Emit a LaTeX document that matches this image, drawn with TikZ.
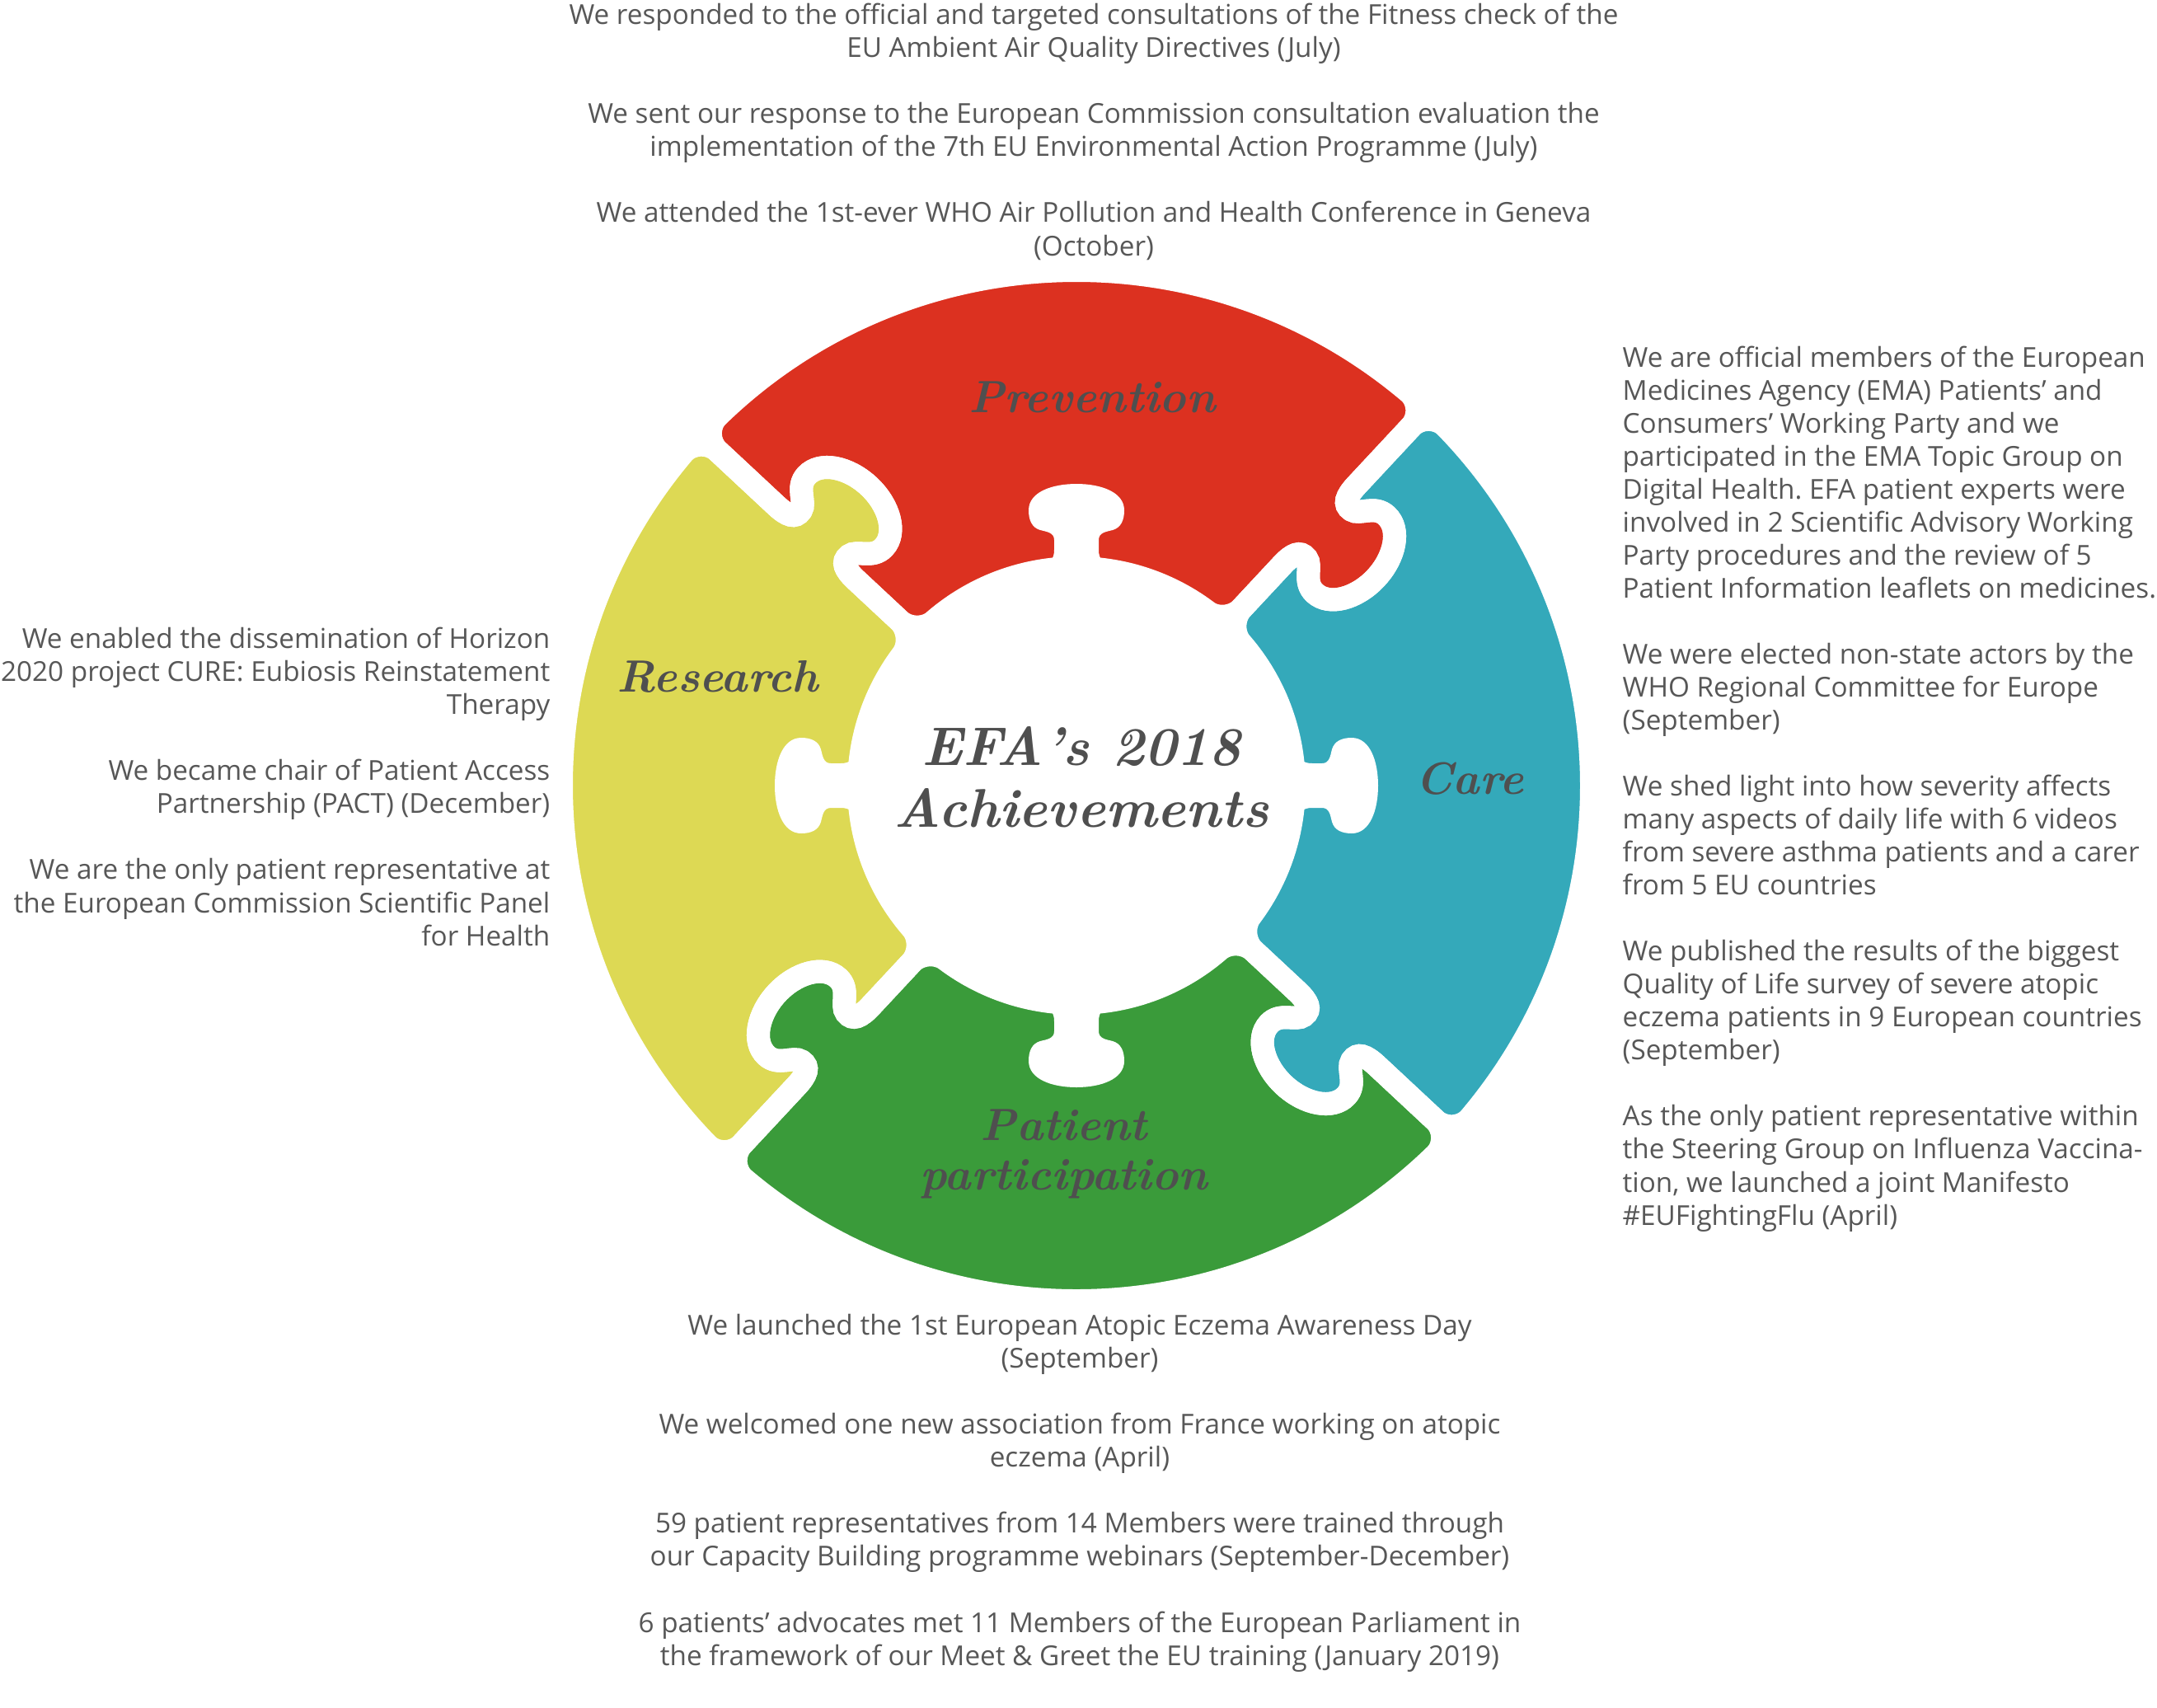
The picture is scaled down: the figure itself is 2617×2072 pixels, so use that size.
\documentclass[tikz,border=0pt]{standalone}
\usepackage{fontspec}
\newfontfamily\bodyfont{Open Sans}
\definecolor{efared}{HTML}{DC3120}
\definecolor{efayellow}{HTML}{DDD954}
\definecolor{efagreen}{HTML}{3A9B3A}
\definecolor{efateal}{HTML}{34A9BA}
\definecolor{bodygray}{HTML}{575757}
\definecolor{labgray}{HTML}{4F4F4F}
\frenchspacing
\newcommand\piecepath{(262.3,29.9) .. controls (263,14) and (278,0) .. (294,0)
  -- (366,0) .. controls (384,0) and (394,-4) .. (392,-16)
  .. controls (390,-28) and (368,-32) .. (368,-52)
  .. controls (368,-76) and (398,-94) .. (432,-94)
  .. controls (466,-94) and (496,-76) .. (496,-52)
  .. controls (496,-32) and (474,-28) .. (472,-16)
  .. controls (470,-4) and (480,0) .. (498,0)
  -- (595,0) .. controls (611,0) and (624.6,14) .. (624.3,30)
  arc[start angle=2.75,end angle=87.25,radius=625]
  .. controls (14,624.6) and (0,611) .. (0,595)
  -- (0,498) .. controls (0,480) and (4,470) .. (16,472)
  .. controls (28,474) and (32,496) .. (52,496)
  .. controls (76,496) and (94,466) .. (94,432)
  .. controls (94,398) and (76,368) .. (52,368)
  .. controls (32,368) and (28,390) .. (16,392)
  .. controls (4,394) and (0,384) .. (0,366)
  -- (0,294) .. controls (0,278) and (14,263) .. (29.9,262.3)
  arc[start angle=83.5,end angle=6.5,radius=264] -- cycle}
\newcommand\knobpath{(-48,268) .. controls (-32,270) and (-27,274) .. (-27,286)
  -- (-27,298) .. controls (-27,307) and (-36,308) .. (-44,310)
  .. controls (-54,313) and (-58,322) .. (-58,334)
  .. controls (-58,356) and (-30,366) .. (0,366)
  .. controls (30,366) and (58,356) .. (58,334)
  .. controls (58,322) and (54,313) .. (44,310)
  .. controls (36,308) and (27,307) .. (27,298)
  -- (27,286) .. controls (27,274) and (32,270) .. (48,268) -- cycle}
\tikzset{
  body/.style={font=\bodyfont\fontsize{9.46pt}{11.38pt}\selectfont,text=bodygray,inner sep=0pt},
  lab/.style={font=\bfseries\itshape\fontsize{15.6pt}{17pt}\selectfont,text=labgray,align=center,inner sep=0pt}
}
\begin{document}
\begin{tikzpicture}[x=0.01cm,y=0.01cm]
\useasboundingbox (0,0) rectangle (2617,-2072);
\fill[white] (0,0) rectangle (2617,-2072);
\coordinate (c) at (1306,-953);
\foreach \ang/\col in {47/efared,137/efayellow,227/efagreen,317/efateal}
  \fill[\col,shift={(c)},rotate=\ang] \piecepath;
\foreach \ang in {47,137,227,317}
  \draw[white,line width=0.28cm,shift={(c)},rotate=\ang] \piecepath;
\foreach \ang in {0,90,180,270}
  \fill[white,shift={(c)},rotate=\ang-90] \knobpath;
\node[lab] (prev) at (1325,-482) {Prevention};
\node[lab] (res) at (871,-821) {Research};
\node[lab] (care) at (1783,-945) {Care};
\node[lab,font=\bfseries\itshape\fontsize{15.6pt}{17pt}\selectfont] (pat) at (1291,-1400) {Patient\\participation};
\node[lab,font=\bfseries\itshape\fontsize{18.8pt}{21.3pt}\selectfont] (title) at (1312,-943) {EFA's 2018\\Achievements};
\node[body,align=center,anchor=base] (prevtxt) at (1327,-310) {We responded to the official and targeted consultations of the Fitness check of the\\
EU Ambient Air Quality Directives (July)\\[11.38pt]
We sent our response to the European Commission consultation evaluation the\\
implementation of the 7th EU Environmental Action Programme (July)\\[11.38pt]
We attended the 1st-ever WHO Air Pollution and Health Conference in Geneva\\
(October)};
\node[body,align=right,anchor=base east] (restxt) at (668,-1147) {We enabled the dissemination of Horizon\\
2020 project CURE: Eubiosis Reinstatement\\
Therapy\\[11.38pt]
We became chair of Patient Access\\
Partnership (PACT) (December)\\[11.38pt]
We are the only patient representative at\\
the European Commission Scientific Panel\\
for Health};
\node[body,align=left,anchor=base west] (caretxt) at (1968,-1486) {We are official members of the European\\
Medicines Agency (EMA) Patients’ and\\
Consumers’ Working Party and we\\
participated in the EMA Topic Group on\\
Digital Health. EFA patient experts were\\
involved in 2 Scientific Advisory Working\\
Party procedures and the review of 5\\
Patient Information leaflets on medicines.\\[11.38pt]
We were elected non-state actors by the\\
WHO Regional Committee for Europe\\
(September)\\[11.38pt]
We shed light into how severity affects\\
many aspects of daily life with 6 videos\\
from severe asthma patients and a carer\\
from 5 EU countries\\[11.38pt]
We published the results of the biggest\\
Quality of Life survey of severe atopic\\
eczema patients in 9 European countries\\
(September)\\[11.38pt]
As the only patient representative within\\
the Steering Group on Influenza Vaccina-\\
tion, we launched a joint Manifesto\\
\#EUFightingFlu (April)};
\node[body,align=center,anchor=base] (pattxt) at (1310,-2020) {We launched the 1st European Atopic Eczema Awareness Day\\
(September)\\[11.38pt]
We welcomed one new association from France working on atopic\\
eczema (April)\\[11.38pt]
59 patient representatives from 14 Members were trained through\\
our Capacity Building programme webinars (September-December)\\[11.38pt]
6 patients’ advocates met 11 Members of the European Parliament in\\
the framework of our Meet \& Greet the EU training (January 2019)};
\end{tikzpicture}
\end{document}
